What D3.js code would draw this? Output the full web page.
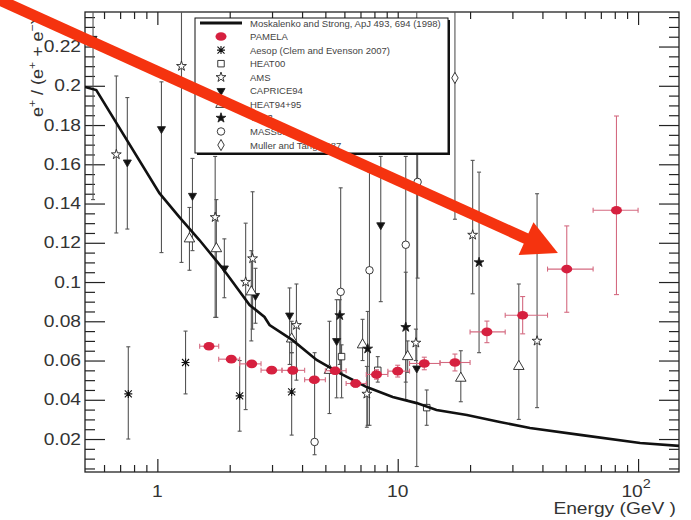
<!DOCTYPE html>
<html>
<head>
<meta charset="utf-8">
<script src="https://cdn.jsdelivr.net/npm/d3@7"></script>
<style>
body { margin: 0; background: #fff; }
svg { display: block; font-family: "Liberation Sans", Arial, sans-serif; }
</style>
</head>
<body>
<svg id="chart" width="691" height="520"></svg>
<script>
// model curve (Moskalenko and Strong 1998)
var moskE = [0.5, 0.557, 1.02, 1.235, 1.496, 1.865, 2.42, 2.79, 2.93, 3.65, 4.6, 5.73, 7.43, 9.53, 12.0, 14.5, 19.4, 26.6, 35.5, 58.4, 102, 148];
var moskV = [0.1994, 0.1978, 0.1453, 0.1331, 0.1214, 0.1071, 0.0883, 0.0822, 0.0781, 0.0704, 0.0603, 0.0536, 0.0465, 0.0414, 0.0383, 0.0348, 0.0322, 0.0287, 0.0256, 0.022, 0.018, 0.0165];

// PAMELA
var pamelaE = [1.64, 2.03, 2.47, 2.99, 3.66, 4.5, 5.49, 6.68, 8.16, 10.0, 12.9, 17.3, 23.5, 33.1, 50.5, 81.3];
var pamelaV = [0.0673, 0.0607, 0.0583, 0.0551, 0.055, 0.0502, 0.0548, 0.0483, 0.0529, 0.0546, 0.0585, 0.059, 0.0746, 0.0831, 0.1066, 0.1366];
var pamelaErrUp = [0.0015, 0.0013, 0.0012, 0.0013, 0.0013, 0.0015, 0.0017, 0.0019, 0.0024, 0.003, 0.0032, 0.0043, 0.0055, 0.0095, 0.022, 0.048];
var pamelaErrDn = [0.0015, 0.0013, 0.0012, 0.0013, 0.0013, 0.0015, 0.0017, 0.0019, 0.0024, 0.003, 0.0032, 0.0043, 0.0055, 0.0095, 0.022, 0.043];
var pamelaBins = [[1.5, 1.8], [1.8, 2.2], [2.2, 2.7], [2.7, 3.3], [3.3, 4.1], [4.1, 5.0], [5.0, 6.1], [6.1, 7.4], [7.4, 9.1], [9.1, 11.2], [11.2, 15], [15, 20], [20, 28], [28, 42], [42, 65], [65, 100]];

// other experiments: energy, value, lower / upper end of error bar
var aesop = [
    {e: 0.757, v: 0.043, lo: 0.020, hi: 0.067},
    {e: 1.31, v: 0.059, lo: 0.043, hi: 0.075},
    {e: 2.20, v: 0.042, lo: 0.024, hi: 0.060},
    {e: 3.62, v: 0.044, lo: 0.022, hi: 0.064}
];
var heat00 = [
    {e: 5.84, v: 0.062, lo: 0.041, hi: 0.068},
    {e: 8.26, v: 0.055, lo: 0.049, hi: 0.062},
    {e: 13.2, v: 0.036, lo: 0.027, hi: 0.045}
];
var ams = [
    {e: 0.675, v: 0.165, lo: 0.125, hi: 0.205},
    {e: 1.26, v: 0.210, lo: 0.110, hi: 0.25},
    {e: 1.74, v: 0.133, lo: 0.082, hi: 0.164},
    {e: 2.33, v: 0.100, lo: 0.035, hi: 0.130},
    {e: 2.49, v: 0.112, lo: 0.076, hi: 0.146},
    {e: 3.79, v: 0.078, lo: 0.050, hi: 0.099},
    {e: 7.44, v: 0.043, lo: 0.026, hi: 0.057},
    {e: 11.9, v: 0.069, lo: 0.060, hi: 0.076},
    {e: 20.5, v: 0.124, lo: 0.094, hi: 0.162},
    {e: 38.0, v: 0.070, lo: 0.036, hi: 0.145}
];
var caprice94 = [
    {e: 0.54, v: 0.224, lo: 0.142, hi: 0.25},
    {e: 0.75, v: 0.161, lo: 0.127, hi: 0.194},
    {e: 1.04, v: 0.178, lo: 0.115, hi: 0.202},
    {e: 1.40, v: 0.144, lo: 0.116, hi: 0.163},
    {e: 1.90, v: 0.107, lo: 0.092, hi: 0.122},
    {e: 2.56, v: 0.093, lo: 0.079, hi: 0.107},
    {e: 3.55, v: 0.083, lo: 0.058, hi: 0.097},
    {e: 5.57, v: 0.070, lo: 0.041, hi: 0.091},
    {e: 8.50, v: 0.129, lo: 0.090, hi: 0.164},
    {e: 12.0, v: 0.056, lo: 0.006, hi: 0.25}
];
var heat9495 = [
    {e: 1.36, v: 0.122, lo: 0.106, hi: 0.138},
    {e: 1.76, v: 0.117, lo: 0.082, hi: 0.142},
    {e: 2.46, v: 0.095, lo: 0.070, hi: 0.116},
    {e: 3.62, v: 0.071, lo: 0.064, hi: 0.080},
    {e: 5.2, v: 0.055, lo: 0.033, hi: 0.080},
    {e: 7.14, v: 0.068, lo: 0.060, hi: 0.081},
    {e: 11.0, v: 0.062, lo: 0.054, hi: 0.070},
    {e: 18.3, v: 0.051, lo: 0.039, hi: 0.065},
    {e: 31.9, v: 0.057, lo: 0.030, hi: 0.099}
];
var ts93 = [
    {e: 5.74, v: 0.083, lo: 0.058, hi: 0.091},
    {e: 7.5, v: 0.066, lo: 0.027, hi: 0.085},
    {e: 10.8, v: 0.077, lo: 0.049, hi: 0.105},
    {e: 21.8, v: 0.110, lo: 0.064, hi: 0.156}
];
var mass89 = [
    {e: 4.51, v: 0.0185, lo: 0.012, hi: 0.064},
    {e: 5.79, v: 0.095, lo: 0.054, hi: 0.148},
    {e: 7.63, v: 0.106, lo: 0.027, hi: 0.156},
    {e: 10.8, v: 0.119, lo: 0.040, hi: 0.164},
    {e: 12.1, v: 0.151, lo: 0.102, hi: 0.167}
];
var muller = [
    {e: 17.3, v: 0.204, lo: 0.132, hi: 0.25}
];

var legendNames = ["Moskalenko and Strong, ApJ 493, 694 (1998)", "PAMELA", "Aesop (Clem and Evenson 2007)",
    "HEAT00", "AMS", "CAPRICE94", "HEAT94+95", "TS93", "MASS89", "Muller and Tang 1987"];
var legendMarks = ["line", "pamela", "asterisk", "square", "star", "tridown", "triup", "starfill", "circle", "diamond"];

var xMajor = [1, 10, 100];
var xMinor = [0.6, 0.7, 0.8, 0.9, 2, 3, 4, 5, 6, 7, 8, 9, 20, 30, 40, 50, 60, 70, 80, 90];
var yMajor = [0.02, 0.04, 0.06, 0.08, 0.1, 0.12, 0.14, 0.16, 0.18, 0.2, 0.22];
var yMinorStep = 0.005;

// annotation arrow, in data units
var arrowFrom = [0.221, 0.2437];
var arrowTo = [46.4, 0.1148];

var x = d3.scaleLog().domain([0.5, 148]).range([85, 679]);
var y = d3.scaleLinear().domain([0.0032, 0.2376]).range([472, 12]);

var svg = d3.select("#chart");
var ink = "#222";

svg.append("defs").append("clipPath").attr("id", "plot")
    .append("rect")
    .attr("x", x.range()[0]).attr("y", y.range()[1])
    .attr("width", x.range()[1] - x.range()[0])
    .attr("height", y.range()[0] - y.range()[1]);

// ---- axes: ticks on all four sides, pointing in
var axes = svg.append("g");
function xTicks(vals, len) {
    axes.append("g").attr("transform", "translate(0," + y.range()[0] + ")")
        .call(d3.axisBottom(x).tickValues(vals).tickSize(-len).tickSizeOuter(0).tickFormat(""));
    axes.append("g").attr("transform", "translate(0," + y.range()[1] + ")")
        .call(d3.axisTop(x).tickValues(vals).tickSize(-len).tickSizeOuter(0).tickFormat(""));
}
function yTicks(vals, len) {
    axes.append("g").attr("transform", "translate(" + x.range()[0] + ",0)")
        .call(d3.axisLeft(y).tickValues(vals).tickSize(-len).tickSizeOuter(0).tickFormat(""));
    axes.append("g").attr("transform", "translate(" + x.range()[1] + ",0)")
        .call(d3.axisRight(y).tickValues(vals).tickSize(-len).tickSizeOuter(0).tickFormat(""));
}
var yMinor = d3.range(1, 48).filter(function(i) { return i % 4 !== 0; }).map(function(i) { return i * yMinorStep; });
xTicks(xMajor, 13);
xTicks(xMinor, 7);
yTicks(yMajor, 20);
yTicks(yMinor, 10);
axes.selectAll(".domain").remove();
axes.selectAll(".tick line").attr("stroke", ink).attr("stroke-width", 1.2);
axes.append("rect")
    .attr("x", x.range()[0]).attr("y", y.range()[1])
    .attr("width", x.range()[1] - x.range()[0])
    .attr("height", y.range()[0] - y.range()[1])
    .attr("fill", "none").attr("stroke", ink).attr("stroke-width", 1.3);

// labels are drawn a bit wide, like the original's font
function label(txt, px, py, anchor, size, rot, sx) {
    var t = svg.append("text")
        .attr("transform", "translate(" + px + "," + py + ")" + (rot ? " rotate(" + rot + ")" : "") + " scale(" + (sx || 1.2) + ",1)")
        .attr("text-anchor", anchor)
        .attr("font-size", size)
        .attr("fill", "#333");
    if (txt) t.text(txt);
    return t;
}
yMajor.forEach(function(v) {
    label(d3.format("")(+v.toFixed(2)), 81, y(v) + 5.5, "end", 16);
});
label("1", x(1), 497, "middle", 16);
label("10", x(10), 497, "middle", 16);
var t100 = label(null, x(100) - 2, 497, "middle", 16);
t100.append("tspan").text("10");
t100.append("tspan").attr("dy", -9).attr("font-size", 12).text("2");
label("Energy (GeV )", 676, 514, "end", 16);

var yt = label(null, 43, 117, "start", 16, -90, 1.12);
yt.append("tspan").text("e");
yt.append("tspan").attr("dy", -7).attr("font-size", 11).text("+");
yt.append("tspan").attr("dy", 7).text(" / (e");
yt.append("tspan").attr("dy", -7).attr("font-size", 11).text("+");
yt.append("tspan").attr("dy", 7).text(" + e");
yt.append("tspan").attr("dy", -7).attr("font-size", 11).text("\u2212");
yt.append("tspan").attr("dy", 7).text(")");

// ---- markers
function marker(g, type, cx, cy) {
    if (type === "asterisk") {
        g.append("path")
            .attr("d", "M-3.5,-3.5L3.5,3.5M-3.5,3.5L3.5,-3.5M-4,0L4,0M0,-4L0,4")
            .attr("transform", "translate(" + cx + "," + cy + ")")
            .attr("stroke", "#111").attr("stroke-width", 1.1);
        return;
    }
    if (type === "pamela") {
        g.append("ellipse").attr("cx", cx).attr("cy", cy).attr("rx", 5.5).attr("ry", 4.3)
            .attr("fill", "#d6203f");
        return;
    }
    var sym = {
        square: [d3.symbolSquare, 42, false, 0],
        star: [d3.symbolStar, 30, false, 0],
        tridown: [d3.symbolTriangle, 28, true, 180],
        triup: [d3.symbolTriangle, 48, false, 0],
        starfill: [d3.symbolStar, 30, true, 0],
        circle: [d3.symbolCircle, 44, false, 0],
        diamond: [d3.symbolDiamond, 36, false, 0]
    }[type];
    g.append("path")
        .attr("d", d3.symbol(sym[0], sym[1])())
        .attr("transform", "translate(" + cx + "," + cy + ") rotate(" + sym[3] + ")")
        .attr("stroke", ink).attr("stroke-width", 0.9)
        .attr("fill", sym[2] ? "#111" : "#fff");
}

var data = svg.append("g").attr("clip-path", "url(#plot)");
var series = [
    [aesop, "asterisk"], [heat00, "square"], [ams, "star"], [caprice94, "tridown"],
    [heat9495, "triup"], [ts93, "starfill"], [mass89, "circle"], [muller, "diamond"]
];
var bars = data.append("g").attr("stroke", "#555").attr("stroke-width", 1.1);
series.forEach(function(s) {
    s[0].forEach(function(d) {
        var px = x(d.e);
        bars.append("line").attr("x1", px).attr("x2", px).attr("y1", y(d.hi)).attr("y2", y(d.lo));
        bars.append("line").attr("x1", px - 2).attr("x2", px + 2).attr("y1", y(d.hi)).attr("y2", y(d.hi));
        bars.append("line").attr("x1", px - 2).attr("x2", px + 2).attr("y1", y(d.lo)).attr("y2", y(d.lo));
    });
});
var marks = data.append("g");
series.forEach(function(s) {
    s[0].forEach(function(d) { marker(marks, s[1], x(d.e), y(d.v)); });
});

// model line
var line = d3.line().x(function(d) { return x(d[0]); }).y(function(d) { return y(d[1]); });
data.append("path")
    .datum(d3.zip(moskE, moskV))
    .attr("d", line)
    .attr("fill", "none").attr("stroke", "#111").attr("stroke-width", 2.6);

// PAMELA
var pam = data.append("g");
var pamBars = pam.append("g").attr("stroke", "#d46a80").attr("stroke-width", 1.1);
pamelaE.forEach(function(e, i) {
    var px = x(e), py = y(pamelaV[i]);
    var yt = y(pamelaV[i] + pamelaErrUp[i]), yb = y(pamelaV[i] - pamelaErrDn[i]);
    var xl = x(pamelaBins[i][0]), xr = x(pamelaBins[i][1]);
    pamBars.append("line").attr("x1", xl).attr("x2", xr).attr("y1", py).attr("y2", py);
    pamBars.append("line").attr("x1", xl).attr("x2", xl).attr("y1", py - 2.5).attr("y2", py + 2.5);
    pamBars.append("line").attr("x1", xr).attr("x2", xr).attr("y1", py - 2.5).attr("y2", py + 2.5);
    pamBars.append("line").attr("x1", px).attr("x2", px).attr("y1", yt).attr("y2", yb);
    pamBars.append("line").attr("x1", px - 2.5).attr("x2", px + 2.5).attr("y1", yt).attr("y2", yt);
    pamBars.append("line").attr("x1", px - 2.5).attr("x2", px + 2.5).attr("y1", yb).attr("y2", yb);
    marker(pam, "pamela", px, py);
});

// ---- legend
var leg = svg.append("g");
leg.append("rect").attr("x", 197).attr("y", 20).attr("width", 253).attr("height", 135).attr("fill", "#111");
leg.append("rect").attr("x", 195).attr("y", 18).attr("width", 253).attr("height", 135)
    .attr("fill", "#fff").attr("stroke", "#111").attr("stroke-width", 1);
legendNames.forEach(function(name, i) {
    var ry = 23 + i * 13.56;
    if (legendMarks[i] === "line") {
        leg.append("line").attr("x1", 200).attr("x2", 242).attr("y1", ry).attr("y2", ry)
            .attr("stroke", "#111").attr("stroke-width", 3);
    } else {
        marker(leg, legendMarks[i], 221, ry);
    }
    leg.append("text").attr("x", 250).attr("y", ry + 3.5)
        .attr("font-size", 9.5).attr("fill", "#444").text(name);
});

// ---- red arrow on top
var ax0 = x(arrowFrom[0]), ay0 = y(arrowFrom[1]);
var ax1 = x(arrowTo[0]), ay1 = y(arrowTo[1]);
var ang = Math.atan2(ay1 - ay0, ax1 - ax0);
var headLen = 35, headW = 36;
var bx = ax1 - headLen * Math.cos(ang), by = ay1 - headLen * Math.sin(ang);
var red = "#f5330f";
svg.append("line").attr("x1", ax0).attr("y1", ay0).attr("x2", bx + 2 * Math.cos(ang)).attr("y2", by + 2 * Math.sin(ang))
    .attr("stroke", red).attr("stroke-width", 11);
svg.append("path")
    .attr("d", "M" + ax1 + "," + ay1 +
        "L" + (bx - headW / 2 * Math.sin(ang)) + "," + (by + headW / 2 * Math.cos(ang)) +
        "L" + (bx + headW / 2 * Math.sin(ang)) + "," + (by - headW / 2 * Math.cos(ang)) + "Z")
    .attr("fill", red);
</script>
</body>
</html>
